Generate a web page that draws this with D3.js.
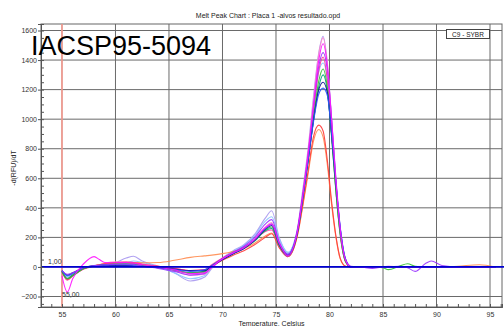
<!DOCTYPE html>
<html>
<head>
<meta charset="utf-8">
<script src="https://cdn.jsdelivr.net/npm/d3@7"></script>
<style>
  body { margin: 0; background: #fff; }
  text { font-family: "Liberation Sans", Arial, sans-serif; }
</style>
</head>
<body>
<svg id="chart" width="504" height="326"></svg>
<script>
// temperatures (Celsius) shared by every well
var temps = [
  55.0, 55.5, 56, 57, 58, 58.5, 59,
  60, 61, 61.7, 62.5, 64, 65.5, 67,
  68.3, 69, 70, 71, 72, 73, 74,
  74.6, 75.3, 76.1, 77, 77.5, 78, 78.5,
  79, 79.4, 79.8, 80.2, 80.6, 81, 81.5,
  82, 83, 84, 85, 85.5, 86.5, 87.3,
  88, 89, 89.5, 90.5, 92, 94, 95.5
];

// -d(RFU)/dT per well
var lavender = [
  -30, -70, -50, -8, 10, 15, 18,
  30, 60, 72, 40, 5, -40, -95,
  -70, -10, 60, 110, 150, 220, 330,
  380, 200, 95, 260, 520, 800, 1150,
  1450, 1560, 1380, 1000, 580, 250, 45,
  0, 0, 0, 0, 0, 0, 0,
  0, 0, 0, 0, 0, 0, 0
];
var pink = [
  -35, -85, -60, -12, 8, 15, 25,
  35, 30, 25, 18, 0, -25, -55,
  -50, -5, 50, 95, 130, 190, 270,
  300, 165, 80, 250, 500, 780, 1120,
  1440, 1550, 1370, 980, 560, 240, 40,
  0, 0, 0, 0, 0, 0, 0,
  0, 0, 0, 0, 0, 0, 0
];
var magenta = [
  -60, -170, -80, 20, 70, 50, 30,
  28, 30, 25, 15, 0, -20, -45,
  -40, 0, 55, 95, 130, 185, 265,
  290, 160, 75, 240, 480, 760, 1090,
  1400, 1510, 1360, 990, 580, 250, 45,
  0, 0, 0, 0, 5, 0, 0,
  0, 0, 0, 0, 0, 0, 0
];
var purple = [
  -25, -50, -40, -5, 8, 12, 15,
  18, 20, 15, 5, -10, -30, -55,
  -45, 0, 55, 100, 140, 200, 290,
  320, 170, 85, 250, 490, 760, 1080,
  1360, 1450, 1330, 1000, 600, 270, 50,
  5, 0, -10, 0, 0, 5, -5,
  -30, 25, 40, 10, 0, 0, 0
];
var hotpink = [
  -35, -90, -60, -15, 5, 12, 20,
  30, 35, 30, 20, 5, -10, -25,
  -20, 15, 60, 100, 135, 180, 240,
  250, 140, 70, 230, 470, 740, 1050,
  1330, 1420, 1260, 900, 520, 220, 35,
  0, 0, 0, 0, 0, 0, 0,
  0, 0, 0, 0, 0, 0, 0
];
var lightblue = [
  -30, -65, -45, -8, 8, 12, 16,
  20, 28, 40, 30, 0, -40, -80,
  -60, -5, 55, 105, 145, 210, 310,
  340, 190, 100, 250, 490, 750, 1060,
  1320, 1380, 1270, 960, 570, 260, 50,
  0, 0, 0, 0, 0, 0, 0,
  0, 0, 0, 0, 0, 0, 0
];
var green = [
  -30, -80, -60, -12, 6, 10, 15,
  20, 22, 20, 12, 0, -20, -40,
  -35, 5, 55, 95, 130, 180, 250,
  270, 150, 80, 235, 470, 730, 1010,
  1260, 1340, 1210, 880, 510, 220, 35,
  0, 0, 0, -5, -18, 5, 22,
  5, 0, 0, 0, 0, 0, 0
];
var teal = [
  -30, -78, -55, -10, 6, 10, 14,
  18, 20, 18, 10, -2, -22, -40,
  -30, 5, 50, 90, 125, 175, 245,
  260, 145, 75, 230, 460, 720, 990,
  1220, 1300, 1190, 880, 520, 230, 40,
  0, 0, 0, 0, 0, 0, 0,
  0, 0, 0, 0, 0, 0, 0
];
var navy = [
  -25, -55, -40, -5, 8, 10, 12,
  10, 10, 8, 5, -5, -15, -25,
  -25, 5, 50, 90, 125, 180, 255,
  280, 155, 80, 235, 470, 720, 990,
  1200, 1250, 1180, 900, 560, 260, 50,
  0, 0, 0, 0, 0, 0, 0,
  0, 0, 0, 0, 0, 0, 0
];
var blue = [
  -25, -60, -45, -6, 8, 12, 14,
  15, 15, 12, 6, -5, -18, -30,
  -20, 10, 55, 95, 130, 185, 260,
  290, 160, 85, 240, 470, 720, 980,
  1170, 1210, 1160, 900, 570, 270, 55,
  0, 0, 0, 0, 0, 0, 0,
  0, 0, 0, 0, 0, 0, 0
];
var red = [
  -30, -85, -60, -12, 8, 15, 22,
  28, 30, 25, 15, 5, -10, -25,
  -20, 10, 45, 80, 110, 150, 200,
  225, 130, 70, 215, 420, 650, 880,
  960, 920, 720, 440, 210, 60, 5,
  0, 0, 0, 0, 0, 0, 0,
  0, 0, 0, 0, 0, 0, 0
];
var orange = [
  -30, -80, -55, -10, 8, 15, 20,
  25, 30, 30, 28, 30, 45, 65,
  75, 80, 90, 105, 125, 160, 210,
  230, 135, 70, 210, 410, 630, 850,
  930, 880, 690, 420, 200, 55, 5,
  0, 0, 0, 0, 0, 0, 0,
  0, 0, 0, 0, 5, 15, 0
];

var wells = [
  {values: lavender, color: "#a898f0"},
  {values: lightblue, color: "#88c4ff"},
  {values: pink, color: "#ff88cc"},
  {values: orange, color: "#ff8c50"},
  {values: red, color: "#ff3838"},
  {values: hotpink, color: "#ff3399"},
  {values: teal, color: "#00a080"},
  {values: green, color: "#30c030"},
  {values: navy, color: "#101090"},
  {values: blue, color: "#2a55ff"},
  {values: purple, color: "#9933ff"},
  {values: magenta, color: "#ff10ff"}
];

var yTicks = [-200, 0, 200, 400, 600, 800, 1000, 1200, 1400, 1600];
var xTicks = [55, 60, 65, 70, 75, 80, 85, 90, 95];

var margin = {top: 24, right: 2, bottom: 19, left: 41},
  W = 504, H = 326,
  width = W - margin.left - margin.right,
  height = H - margin.top - margin.bottom;

var svg = d3.select("#chart");

var x = d3.scaleLinear().domain([53.04, 96.12]).range([0, width]);
var y = d3.scaleLinear().domain([-271, 1644]).range([height, 0]);

var g = svg.append("g").attr("transform", `translate(${margin.left},${margin.top})`);

// grid
g.append("g").selectAll("line").data(yTicks).join("line")
  .attr("x1", 0).attr("x2", width)
  .attr("y1", d => y(d)).attr("y2", d => y(d))
  .attr("stroke", "#6a6a6a").attr("stroke-width", 1);
g.append("g").selectAll("line").data(xTicks).join("line")
  .attr("x1", d => x(d)).attr("x2", d => x(d))
  .attr("y1", 0).attr("y2", height)
  .attr("stroke", "#6a6a6a").attr("stroke-width", 1);

// frame
g.append("rect").attr("width", width).attr("height", height)
  .attr("fill", "none").attr("stroke", "#666");

// marker line at 55
g.append("line")
  .attr("x1", x(55)).attr("x2", x(55)).attr("y1", 0).attr("y2", height)
  .attr("stroke", "#ff9c90").attr("stroke-width", 1.5);

// curves
var line = d3.line()
  .x((d, i) => x(temps[i]))
  .y(d => y(d))
  .curve(d3.curveMonotoneX);

g.append("g").selectAll("path").data(wells).join("path")
  .attr("d", d => line(d.values))
  .attr("fill", "none")
  .attr("stroke", d => d.color)
  .attr("stroke-width", 1.1)
  .attr("stroke-opacity", 0.9);

// zero line
g.append("line")
  .attr("x1", 0).attr("x2", W).attr("y1", y(0)).attr("y2", y(0))
  .attr("stroke", "#0000d0").attr("stroke-width", 1.8);

// axes
var yAxis = d3.axisLeft(y).tickValues(yTicks).tickSize(3).tickPadding(1).tickFormat(d3.format("d"));
g.append("g").call(yAxis);
var yMinor = d3.axisLeft(y).tickValues(d3.range(-250, 1650, 50)).tickSize(-3).tickFormat("");
g.append("g").call(yMinor);

var xMinor = d3.axisBottom(x).tickValues(d3.range(54, 97, 1)).tickSize(-3).tickFormat("");
g.append("g").attr("transform", `translate(0,${height})`).call(xMinor);
var xAxis = d3.axisBottom(x).tickValues(xTicks).tickSize(0).tickPadding(5).tickFormat(d3.format("d"));
g.append("g").attr("transform", `translate(0,${height})`).call(xAxis);

svg.selectAll(".domain").attr("stroke", "#555");
svg.selectAll(".tick line").attr("stroke", "#555");
svg.selectAll(".tick text").attr("font-size", 7).attr("fill", "#333")
  .attr("font-family", "'Liberation Sans', Arial, sans-serif");

// titles
svg.append("text").attr("x", 268).attr("y", 18).attr("text-anchor", "middle")
  .attr("font-size", 7).attr("fill", "#222")
  .text("Melt Peak Chart : Placa 1 -alvos resultado.opd");

svg.append("text").attr("x", margin.left + width / 2).attr("y", 326)
  .attr("text-anchor", "middle").attr("font-size", 7).attr("fill", "#222")
  .text("Temperature, Celsius");

svg.append("text")
  .attr("transform", "translate(16,168) rotate(-90)")
  .attr("text-anchor", "middle").attr("font-size", 7).attr("fill", "#222")
  .text("-d(RFU)/dT");

// marker labels
svg.append("text").attr("x", 48).attr("y", 264).attr("font-size", 7).attr("fill", "#333").text("1,00");
svg.append("text").attr("x", 62).attr("y", 297).attr("font-size", 7).attr("fill", "#333").text("55,00");

// legend box
svg.append("rect").attr("x", 446.5).attr("y", 29.5).attr("width", 43).attr("height", 9)
  .attr("fill", "#fff").attr("stroke", "#444");
svg.append("text").attr("x", 468).attr("y", 36.5).attr("text-anchor", "middle")
  .attr("font-size", 6.5).attr("fill", "#222").text("C9 - SYBR");

// sample label
svg.append("text").attr("x", 31).attr("y", 55).attr("font-size", 27).attr("fill", "#000")
  .text("IACSP95-5094");
</script>
</body>
</html>
